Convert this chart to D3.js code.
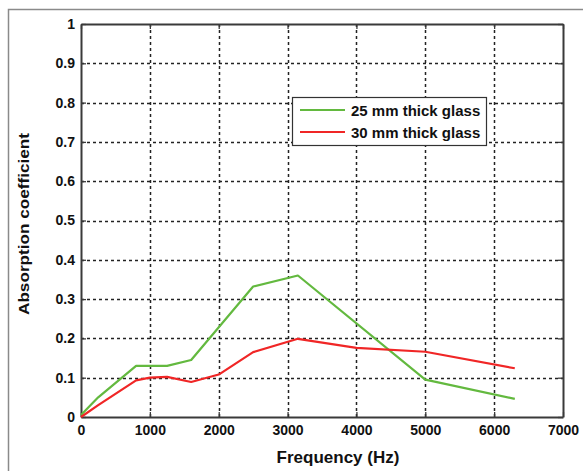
<!DOCTYPE html>
<html>
<head>
<meta charset="utf-8">
<script src="https://cdn.jsdelivr.net/npm/d3@7"></script>
<style>
  html, body { margin: 0; padding: 0; background: #fff; }
  svg { display: block; font-family: "Liberation Sans", Arial, sans-serif; }
</style>
</head>
<body>
<svg id="chart" width="583" height="471"></svg>
<script>
// Absorption coefficient vs frequency for two glass thicknesses
const freq25 = [0, 250, 800, 1250, 1600, 2500, 3150, 5000, 6300];
const alpha25 = [0.005, 0.05, 0.13, 0.13, 0.145, 0.332, 0.36, 0.095, 0.046];
const freq30 = [0, 250, 800, 1000, 1250, 1600, 2000, 2500, 3150, 4000, 5000, 6300];
const alpha30 = [0, 0.03, 0.093, 0.1, 0.102, 0.089, 0.108, 0.165, 0.199, 0.176, 0.166, 0.124];
const seriesNames = ["25 mm thick glass", "30 mm thick glass"];
const seriesColors = ["#63b93f", "#f02626"];
const xTicks = [0, 1000, 2000, 3000, 4000, 5000, 6000, 7000];
const yTicks = [0, 0.1, 0.2, 0.3, 0.4, 0.5, 0.6, 0.7, 0.8, 0.9, 1];

const svg = d3.select("#chart");
const plotLeft = 81, plotRight = 563, plotTop = 24, plotBottom = 417;

const x = d3.scaleLinear().domain([0, 7000]).range([plotLeft, plotRight]);
const y = d3.scaleLinear().domain([0, 1]).range([plotBottom, plotTop]);

// outer figure frame
svg.append("path")
  .attr("d", `M8.5,471 V9.5 H583`)
  .attr("fill", "none").attr("stroke", "#8a8a8a").attr("stroke-width", 1.5);

// dotted grid
const grid = svg.append("g");
grid.selectAll(".gx").data(xTicks.slice(1, -1)).join("line")
  .attr("x1", d => Math.round(x(d)) + 0.5).attr("x2", d => Math.round(x(d)) + 0.5)
  .attr("y1", plotTop).attr("y2", plotBottom)
  .attr("stroke", "#222").attr("stroke-width", 1.5).attr("stroke-dasharray", "3,3");
grid.selectAll(".gy").data(yTicks.slice(1, -1)).join("line")
  .attr("y1", d => Math.round(y(d)) + 0.5).attr("y2", d => Math.round(y(d)) + 0.5)
  .attr("x1", plotLeft).attr("x2", plotRight)
  .attr("stroke", "#222").attr("stroke-width", 1.5).attr("stroke-dasharray", "3,3");

// axes with inward ticks on all four sides
const fmtY = d => d === 0 ? "0" : d === 1 ? "1" : d3.format(".1f")(d);
const axB = svg.append("g").attr("transform", `translate(0,${plotBottom})`)
  .call(d3.axisBottom(x).tickValues(xTicks).tickFormat(d3.format("d")).tickSizeInner(-5).tickSizeOuter(0).tickPadding(8));
const axL = svg.append("g").attr("transform", `translate(${plotLeft},0)`)
  .call(d3.axisLeft(y).tickValues(yTicks).tickFormat(fmtY).tickSizeInner(-5).tickSizeOuter(0).tickPadding(6));
const axT = svg.append("g").attr("transform", `translate(0,${plotTop})`)
  .call(d3.axisTop(x).tickValues(xTicks).tickSizeInner(-5).tickSizeOuter(0).tickFormat(""));
const axR = svg.append("g").attr("transform", `translate(${plotRight},0)`)
  .call(d3.axisRight(y).tickValues(yTicks).tickSizeInner(-5).tickSizeOuter(0).tickFormat(""));
[axB, axL, axT, axR].forEach(a => {
  a.attr("font-size", null).attr("font-family", null);
  a.select(".domain").attr("stroke", "#3a3a3a").attr("stroke-width", 2);
  a.selectAll(".tick line").attr("stroke", "#3a3a3a").attr("stroke-width", 1.3);
  a.selectAll("text")
    .style("font-size", "14px").style("font-weight", "bold").style("fill", "#111")
    .style("font-family", "'Liberation Sans', Arial, sans-serif");
});

// data lines
const line = d3.line().x(d => x(d[0])).y(d => y(d[1]));
const data = [d3.zip(freq25, alpha25), d3.zip(freq30, alpha30)];
svg.append("g").selectAll("path").data(data).join("path")
  .attr("d", line).attr("fill", "none")
  .attr("stroke", (d, i) => seriesColors[i]).attr("stroke-width", 2.2)
  .attr("stroke-linejoin", "round");

// axis titles
svg.append("text").attr("x", 338).attr("y", 463).attr("text-anchor", "middle")
  .style("font-size", "17px").style("font-weight", "bold").style("fill", "#111")
  .text("Frequency (Hz)");
svg.append("text").attr("transform", "translate(29,224) rotate(-90)").attr("text-anchor", "middle")
  .attr("textLength", 182).attr("lengthAdjust", "spacingAndGlyphs")
  .style("font-size", "15px").style("font-weight", "bold").style("fill", "#111")
  .text("Absorption coefficient");

// legend
const lg = svg.append("g");
lg.append("rect").attr("x", 292.5).attr("y", 97.5).attr("width", 194).attr("height", 48)
  .attr("fill", "#fff").attr("stroke", "#333").attr("stroke-width", 1.2);
seriesNames.forEach((name, i) => {
  const yy = 110 + i * 22;
  lg.append("line").attr("x1", 300).attr("x2", 345).attr("y1", yy).attr("y2", yy)
    .attr("stroke", seriesColors[i]).attr("stroke-width", 2.2);
  lg.append("text").attr("x", 351).attr("y", yy + 5.5)
    .style("font-size", "15px").style("font-weight", "bold").style("fill", "#111")
    .text(name);
});
</script>
</body>
</html>
